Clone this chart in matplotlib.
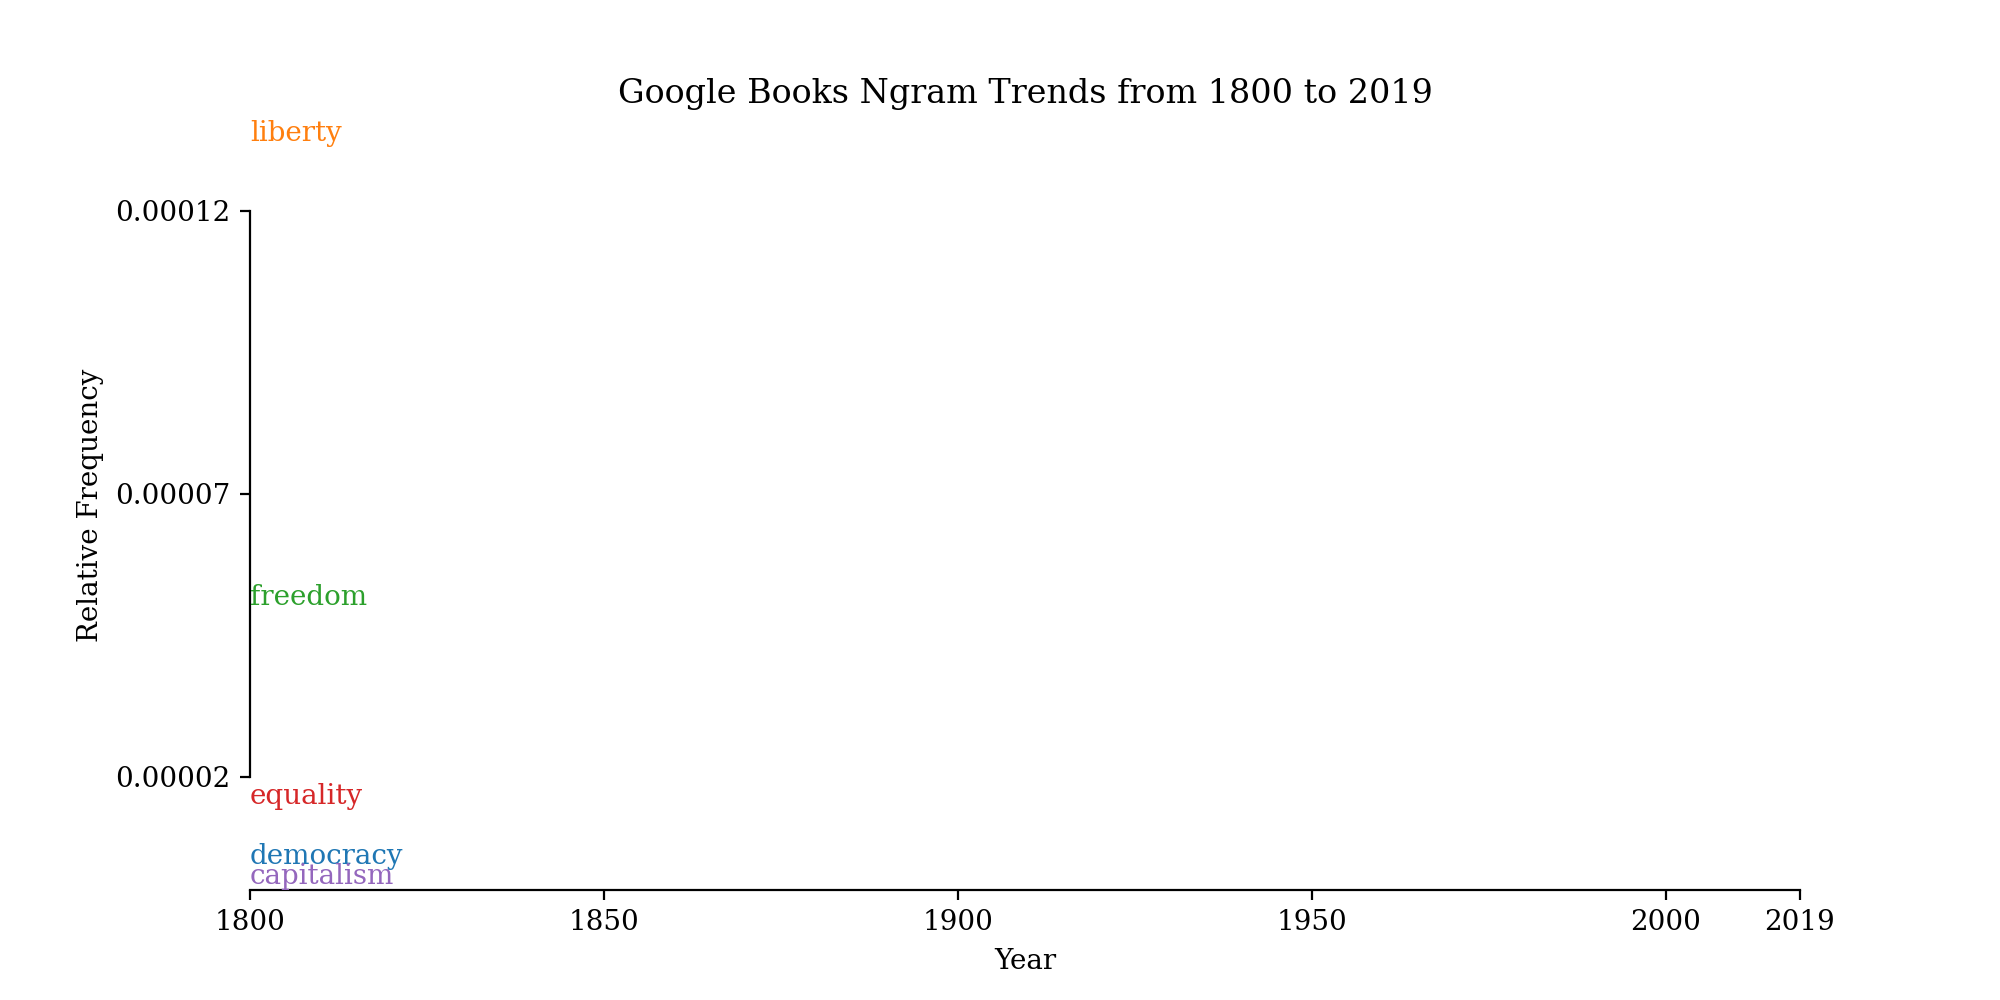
import matplotlib
matplotlib.use("Agg")
import matplotlib.pyplot as plt

plt.rcParams['font.family'] = ['DejaVu Serif']

words = ["democracy", "liberty", "freedom", "equality", "capitalism"]
colors = ["#1f77b4", "#ff7f0e", "#2ca02c", "#d62728", "#9467bd"]
label_year = [1800, 1800, 1800, 1800, 1800]
label_values = [0.0000060, 0.0001337, 0.0000517, 0.0000166, 0.0000023]

x_ticks = [1800, 1850, 1900, 1950, 2000, 2019]
y_ticks = [0.00002, 0.00007, 0.00012]
y_tick_labels = ["0.00002", "0.00007", "0.00012"]

fig, ax = plt.subplots(figsize=(10, 5), dpi=200)

for w, c, xv, yv in zip(words, colors, label_year, label_values):
    ax.text(xv, yv, w, color=c, fontsize=10, ha="left", va="center")

ax.set_xlim(1800, 2019)
ax.set_ylim(0, 0.000136)
ax.set_xticks(x_ticks)
ax.set_xticklabels([str(t) for t in x_ticks])
ax.set_yticks(y_ticks)
ax.set_yticklabels(y_tick_labels)

ax.spines["top"].set_visible(False)
ax.spines["right"].set_visible(False)
ax.spines["left"].set_bounds(y_ticks[0], y_ticks[-1])
ax.spines["bottom"].set_bounds(x_ticks[0], x_ticks[-1])

ax.set_title("Google Books Ngram Trends from 1800 to 2019", fontsize=12)
ax.set_xlabel("Year")
ax.set_ylabel("Relative Frequency")

fig.savefig("out.png", dpi=200)
